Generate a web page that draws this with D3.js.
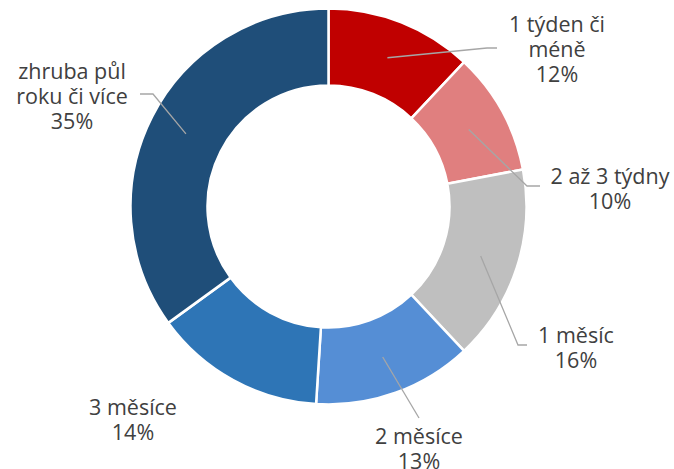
<!DOCTYPE html>
<html>
<head>
<meta charset="utf-8">
<script src="https://cdn.jsdelivr.net/npm/d3@7"></script>
<style>
  body { margin: 0; background: #fff; }
  text { font-family: "Open Sans", "DejaVu Sans", sans-serif; fill: #404040; }
</style>
</head>
<body>
<div id="chart"></div>
<script>
// data
const categories = ["1 týden či méně", "2 až 3 týdny", "1 měsíc", "2 měsíce", "3 měsíce", "zhruba půl roku či více"]
const labelLines = [["1 týden či", "méně"], ["2 až 3 týdny"], ["1 měsíc"], ["2 měsíce"], ["3 měsíce"], ["zhruba půl", "roku či více"]]
const values = [12, 10, 16, 13, 14, 35]
const colors = ["#C00000", "#E07F7F", "#BFBFBF", "#558ED5", "#2E75B6", "#1F4E79"]

// label layout: text centre x, first baseline y, leader elbow + end (null = no leader)
const labelLayout = [
    { x: 557, y: 32, elbow: [487, 48], end: [497, 48] },
    { x: 610, y: 184, elbow: [527, 186], end: [540, 186] },
    { x: 576, y: 343, elbow: [518, 345], end: [527, 345] },
    { x: 419, y: 444, elbow: null, end: [419, 418] },
    { x: 133, y: 415, elbow: null, end: null },
    { x: 72, y: 79, elbow: [153, 94], end: [140, 94] },
]

const dimensions = { width: 674, height: 469, cx: 328.5, cy: 206.5, outer: 198, inner: 121 }

const svg = d3.select('#chart')
    .append("svg")
    .attr("width", dimensions.width)
    .attr("height", dimensions.height)

const ctr = svg.append("g")
    .attr("transform", `translate(${dimensions.cx}, ${dimensions.cy})`)

const pie = d3.pie().sort(null).value(d => d)
const arcs = pie(values)

const arc = d3.arc()
    .innerRadius(dimensions.inner)
    .outerRadius(dimensions.outer)

const leaderArc = d3.arc().innerRadius(160).outerRadius(160)

ctr.selectAll("path.slice")
    .data(arcs)
    .join("path")
    .attr("class", "slice")
    .attr("d", arc)
    .attr("fill", (d, i) => colors[i])
    .attr("stroke", "#fff")
    .attr("stroke-width", 2.5)

// leader lines
const lines = svg.append("g")
arcs.forEach((d, i) => {
    const lay = labelLayout[i]
    if (!lay.end) return
    const c = leaderArc.centroid(d)
    const pts = [[c[0] + dimensions.cx, c[1] + dimensions.cy]]
    if (lay.elbow) pts.push(lay.elbow)
    pts.push(lay.end)
    lines.append("polyline")
        .attr("points", pts.map(p => p.join(",")).join(" "))
        .attr("fill", "none")
        .attr("stroke", "#A6A6A6")
        .attr("stroke-width", 1.3)
})

// labels
const labels = svg.append("g")
arcs.forEach((d, i) => {
    const lay = labelLayout[i]
    const t = labels.append("text")
        .attr("text-anchor", "middle")
        .attr("font-size", 21.5)
    const rows = labelLines[i].concat([values[i] + "%"])
    rows.forEach((r, j) => {
        t.append("tspan")
            .attr("x", lay.x)
            .attr("y", lay.y + j * 25)
            .text(r)
    })
})
</script>
</body>
</html>
